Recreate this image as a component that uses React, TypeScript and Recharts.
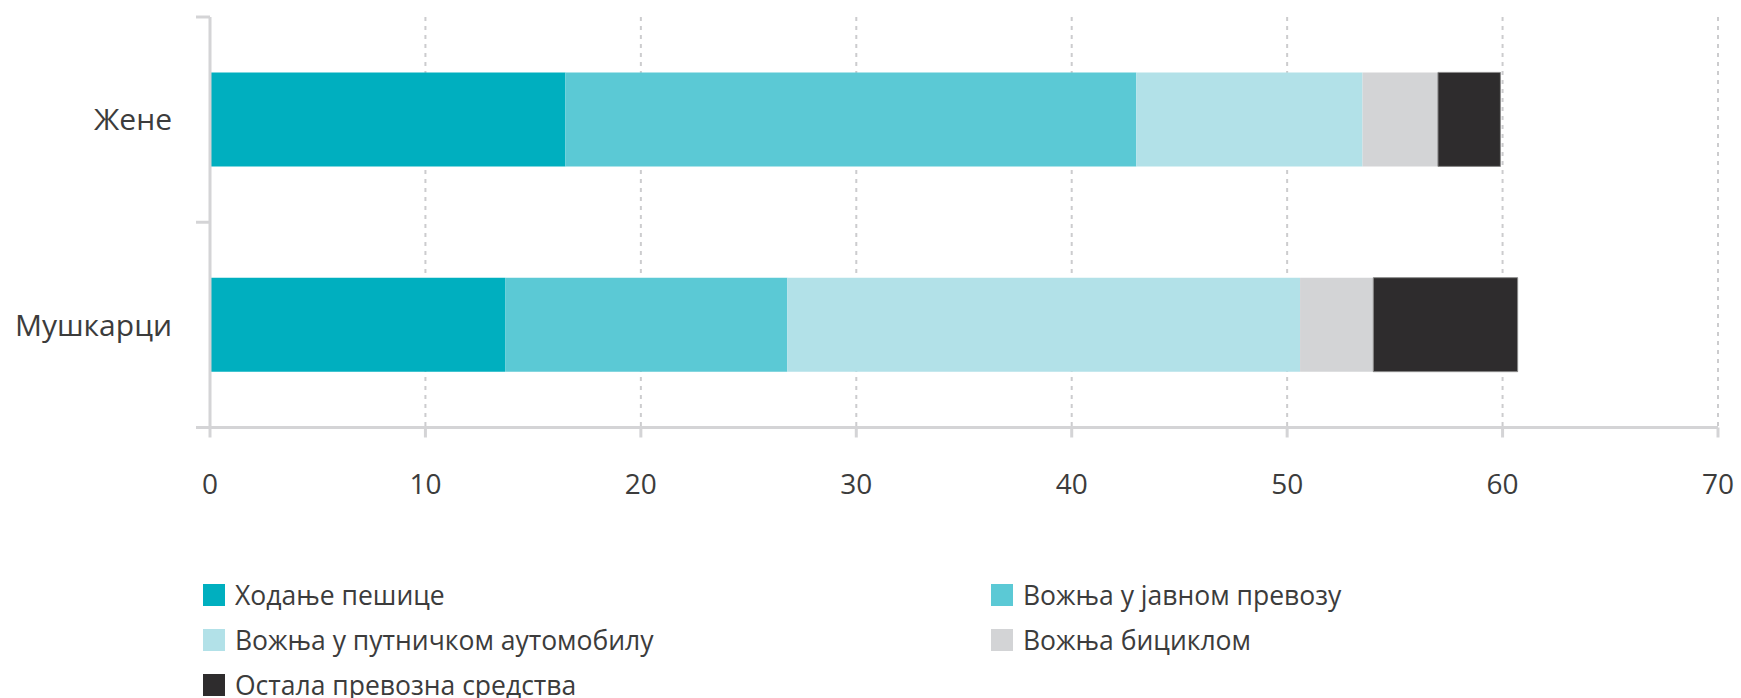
import React from "react";
import {
  Bar,
  BarChart,
  CartesianGrid,
  Legend,
  XAxis,
  YAxis,
} from "recharts";

// Time spent on travel by mode, women vs men (stacked, horizontal).

const categories = ["Жене", "Мушкарци"];
const walking = [16.5, 13.7];
const publicTransport = [26.5, 13.1];
const car = [10.5, 23.8];
const bicycle = [3.5, 3.4];
const other = [2.9, 6.7];

const xTicks = [0, 10, 20, 30, 40, 50, 60, 70];

const SERIES = [
  { key: "walking", name: "Ходање пешице", color: "#00AFBF", values: walking },
  { key: "publicTransport", name: "Вожња у јавном превозу", color: "#5BC9D5", values: publicTransport },
  { key: "car", name: "Вожња у путничком аутомобилу", color: "#B2E1E8", values: car },
  { key: "bicycle", name: "Вожња бициклом", color: "#D3D4D6", values: bicycle },
  { key: "other", name: "Остала превозна средства", color: "#2E2C2D", values: other },
];

const data = categories.map((name, i) => {
  const row: Record<string, string | number> = { name };
  SERIES.forEach((s) => {
    row[s.key] = s.values[i];
  });
  return row;
});

const FONT = "'Open Sans', 'Noto Sans', sans-serif";
const AXIS = "#D4D4D6";
const GRID = "#CCCCCE";
const TEXT = "#3C3C3C";

// Category label plus Excel-style tick marks on the band boundaries
// (payload.offset is half the band width from the category scale).
function CategoryTick(props: any) {
  const { x, y, payload, index, visibleTicksCount } = props;
  const half = payload?.offset ?? 0;
  const last = index === visibleTicksCount - 1;
  return (
    <g>
      <line x1={x - 14} x2={x} y1={y - half} y2={y - half} stroke={AXIS} strokeWidth={3} />
      {last && (
        <line x1={x - 14} x2={x} y1={y + half} y2={y + half} stroke={AXIS} strokeWidth={3} />
      )}
      <text x={x - 38} y={y} dy="0.36em" textAnchor="end" fill={TEXT} fontSize={30}>
        {payload.value}
      </text>
    </g>
  );
}

function LegendGrid() {
  return (
    <div
      style={{
        height: 127,
        paddingLeft: 203,
        paddingTop: 1,
        display: "grid",
        gridTemplateColumns: "788px auto",
        gridAutoRows: "45px",
        fontFamily: FONT,
        fontSize: 26.5,
        color: TEXT,
        boxSizing: "border-box",
      }}
    >
      {SERIES.map((s) => (
        <div key={s.key} style={{ display: "flex", alignItems: "center", whiteSpace: "nowrap" }}>
          <span
            style={{
              display: "inline-block",
              width: 22,
              height: 22,
              background: s.color,
              marginRight: 10,
            }}
          />
          {s.name}
        </div>
      ))}
    </div>
  );
}

export default function App() {
  return (
    <div style={{ position: "absolute", left: 0, top: 0, background: "#fff" }}>
      <BarChart
        width={1741}
        height={698}
        data={data}
        layout="vertical"
        barCategoryGap="27%"
        margin={{ top: 17, right: 23, bottom: 0, left: 0 }}
        style={{ fontFamily: FONT }}
      >
        <CartesianGrid
          horizontal={false}
          stroke={GRID}
          strokeWidth={2}
          strokeDasharray="4 5"
        />
        <XAxis
          type="number"
          domain={[0, 70]}
          ticks={xTicks}
          interval={0}
          height={143.5}
          stroke={AXIS}
          strokeWidth={3}
          tickSize={10}
          tickMargin={37}
          tick={{ fill: TEXT, fontSize: 28 }}
        />
        <YAxis
          type="category"
          dataKey="name"
          width={210}
          stroke={AXIS}
          strokeWidth={3}
          tickLine={false}
          tickSize={0}
          tickMargin={0}
          tick={<CategoryTick />}
        />
        <Legend verticalAlign="bottom" content={() => <LegendGrid />} />
        {SERIES.map((s) => (
          <Bar
            key={s.key}
            dataKey={s.key}
            name={s.name}
            stackId="mode"
            fill={s.color}
            stroke={s.key === "other" ? "#8a8a8a" : undefined}
            strokeWidth={s.key === "other" ? 1 : 0}
            isAnimationActive={false}
          />
        ))}
      </BarChart>
    </div>
  );
}
